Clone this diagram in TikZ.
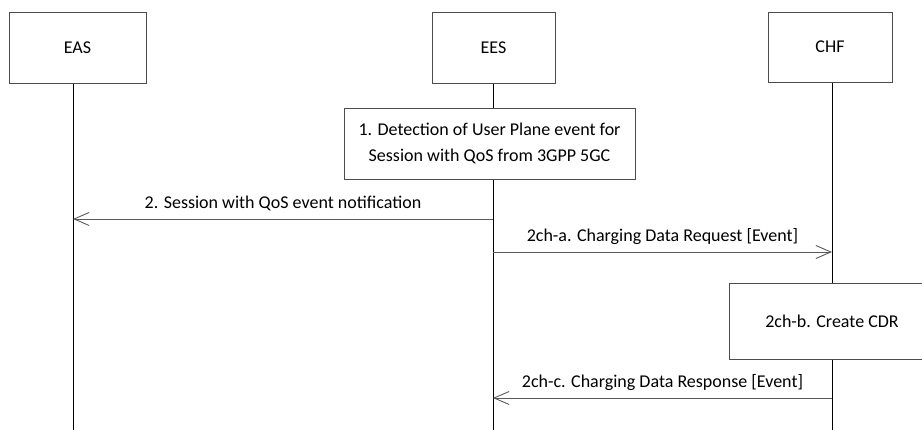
\documentclass[tikz,border=0pt]{standalone}
\usepackage{fontspec}
\setmainfont{Carlito}
\usetikzlibrary{arrows.meta}
\begin{document}
\begin{tikzpicture}[x=1pt,y=-1pt,
  every node/.style={font=\fontsize{18}{26}\selectfont},
  entity/.style={draw=black!70,fill=white,line width=0.8pt,minimum height=71pt,inner sep=0pt},
  actbox/.style={draw=black!70,fill=white,line width=0.8pt,inner sep=0pt,align=center},
  life/.style={draw=black,line width=0.9pt},
  msg/.style={draw=black!65,line width=0.9pt,-{Straight Barb[length=15pt,width=13pt,line width=0.9pt]}},
  lbl/.style={anchor=base,yshift=10pt,inner sep=0pt}]
\useasboundingbox (0,0) rectangle (922,430);
% lifeline coordinates
\coordinate (easTop) at (73,83);
\coordinate (easBot) at (73,430);
\coordinate (eesTop) at (493,83);
\coordinate (eesBot) at (493,430);
\coordinate (chfTop) at (832,82);
\coordinate (chfBot) at (832,430);
\draw[life] (easTop) -- (easBot);
\draw[life] (eesTop) -- (eesBot);
\draw[life] (chfTop) -- (chfBot);
% entity boxes
\node[entity,minimum width=137pt] (eas) at (77.5,47.5) {EAS};
\node[entity,minimum width=123pt] (ees) at (493.5,47.5) {EES};
\node[entity,minimum width=124pt,minimum height=70pt] (chf) at (830,47) {CHF};
% step 1
\node[actbox,minimum width=291pt,minimum height=71pt] (s1) at (489.5,143.5) {1. Detection of User Plane event for\\Session with QoS from 3GPP 5GC};
% 2ch-b
\node[actbox,minimum width=206pt,minimum height=76pt] (s2b) at (832,321) {2ch-b. Create CDR};
% message coordinates
\coordinate (m2s) at (493,219);
\coordinate (m2e) at (73,219);
\coordinate (mas) at (493,252);
\coordinate (mae) at (832,252);
\coordinate (mcs) at (832,398);
\coordinate (mce) at (493,398);
\draw[msg] (m2s) -- node[lbl] (l2) {2. Session with QoS event notification} (m2e);
\draw[msg] (mas) -- node[lbl] (la) {2ch-a. Charging Data Request [Event]} (mae);
\draw[msg] (mcs) -- node[lbl] (lc) {2ch-c. Charging Data Response [Event]} (mce);
\end{tikzpicture}
\end{document}
